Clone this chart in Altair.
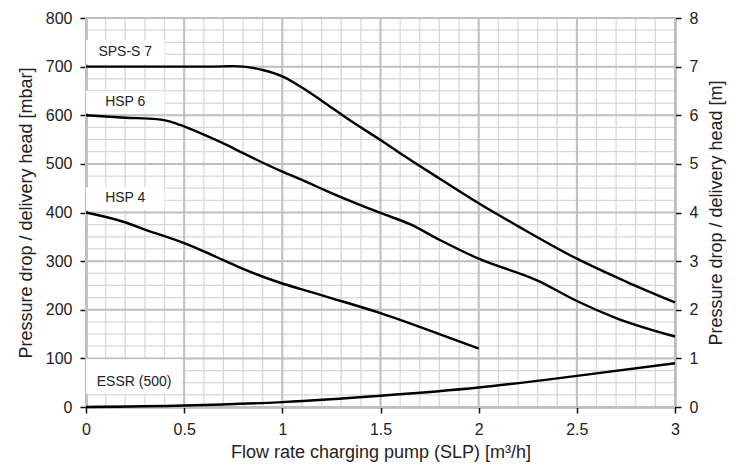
import altair as alt
import pandas as pd

# ---- data ----
sps_x = [0, 0.3, 0.6, 0.7, 0.75, 0.8, 0.9, 1.0, 1.1, 1.2, 1.35, 1.5, 1.6, 1.8, 2.0, 2.2, 2.5, 2.75, 3.0]
sps_y = [700, 700, 700, 700.5, 701, 700, 693, 680, 657, 630, 588, 549, 522, 470, 419, 372, 305, 258, 215]

hsp6_x = [0, 0.2, 0.36, 0.42, 0.48, 0.6, 0.7, 0.8, 1.0, 1.1, 1.25, 1.5, 1.65, 1.8, 2.0, 2.3, 2.5, 2.7, 3.0]
hsp6_y = [600, 595, 592, 588, 580, 560, 542, 522, 484, 467, 440, 399, 376, 344, 305, 260, 218, 183, 145]

hsp4_x = [0, 0.19, 0.3, 0.5, 0.6, 0.7, 0.8, 1.0, 1.09, 1.24, 1.5, 1.65, 1.8, 2.0]
hsp4_y = [400, 381, 365, 337, 320, 302, 284, 254, 243, 225, 193, 172, 150, 120]

essr_x = [0, 0.5, 1.0, 1.5, 2.0, 2.5, 3.0]
essr_y = [0, 3, 10, 23, 40, 64, 90]

label_names = ["SPS-S 7", "HSP 6", "HSP 4", "ESSR (500)"]
label_x0 = [0, 0, 0, 0]
label_x1 = [0.4, 0.4, 0.4, 0.49]
label_y0 = [705, 605, 405, 28]
label_y1 = [755, 650, 452, 98]
label_tx = [0.2, 0.2, 0.2, 0.245]
label_ty = [730, 627, 430, 52]

x_major = [0, 0.5, 1, 1.5, 2, 2.5, 3]
x_minor = [round(i * 0.1, 1) for i in range(31)]
y_major = [0, 100, 200, 300, 400, 500, 600, 700, 800]
y_minor = [i * 25 for i in range(33)]
m_ticks = [0, 1, 2, 3, 4, 5, 6, 7, 8]

# ---- tables ----
rows = []
for name, xs_, ys_ in [("SPS-S 7", sps_x, sps_y), ("HSP 6", hsp6_x, hsp6_y),
                       ("HSP 4", hsp4_x, hsp4_y), ("ESSR (500)", essr_x, essr_y)]:
    for xv, yv in zip(xs_, ys_):
        rows.append({"series": name, "q": xv, "p": yv})
curves = pd.DataFrame(rows)
labels = pd.DataFrame({"name": label_names, "x0": label_x0, "x1": label_x1,
                       "y0": label_y0, "y1": label_y1, "tx": label_tx, "ty": label_ty})

FONT = "Liberation Sans"
xs = alt.Scale(domain=[0, 3], nice=False, zero=False)
ys = alt.Scale(domain=[0, 800], nice=False, zero=False)

lines = alt.Chart(curves).mark_line(color="black", strokeWidth=2.4, interpolate="monotone").encode(
    x=alt.X("q:Q", scale=xs,
            axis=alt.Axis(orient="bottom", values=x_major, format="~g",
                          title="Flow rate charging pump (SLP) [m³/h]",
                          grid=False, tickSize=6, labelPadding=8, titlePadding=6,
                          labelFlush=False)),
    y=alt.Y("p:Q", scale=ys,
            axis=alt.Axis(values=y_major, title="Pressure drop / delivery head [mbar]",
                          grid=False, tickSize=6, labelPadding=8, titlePadding=10,
                          orient="left")),
    detail="series:N")

minor_v = alt.Chart(pd.DataFrame({"g": x_minor})).mark_rule(color="#d6d6d6", strokeWidth=1.2).encode(
    x=alt.X("g:Q", scale=xs, axis=None))
minor_h = alt.Chart(pd.DataFrame({"g": y_minor})).mark_rule(color="#d6d6d6", strokeWidth=1.2).encode(
    y=alt.Y("g:Q", scale=ys, axis=None))
major_v = alt.Chart(pd.DataFrame({"g": x_major})).mark_rule(color="#bfbfbf", strokeWidth=2).encode(
    x=alt.X("g:Q", scale=xs, axis=None))
major_h = alt.Chart(pd.DataFrame({"g": y_major})).mark_rule(color="#bfbfbf", strokeWidth=2).encode(
    y=alt.Y("g:Q", scale=ys, axis=None))

boxes = alt.Chart(labels).mark_rect(color="white").encode(
    x=alt.X("x0:Q", scale=xs, axis=None), x2="x1:Q",
    y=alt.Y("y0:Q", scale=ys, axis=None), y2="y1:Q")

texts = alt.Chart(labels).mark_text(font=FONT, fontSize=14, color="#222222").encode(
    x=alt.X("tx:Q", scale=xs, axis=None),
    y=alt.Y("ty:Q", scale=ys, axis=None),
    text="name:N")

right_axis = alt.Chart(pd.DataFrame({"m": m_ticks})).transform_calculate(
    mb="datum.m * 100").mark_rule(strokeOpacity=0).encode(
    y=alt.Y("mb:Q", scale=ys,
            axis=alt.Axis(orient="right", values=y_major, labelExpr="datum.value / 100",
                          title="Pressure drop / delivery head [m]", grid=False,
                          titleAngle=270, titleBaseline="top",
                          tickSize=6, labelPadding=8, titlePadding=10)))

chart = alt.layer(minor_v, minor_h, major_v, major_h, boxes, lines, texts, right_axis).resolve_axis(
    x="independent", y="independent"
).properties(
    width=589, height=389,
    padding={"left": 78, "top": 10, "right": 57, "bottom": 58},
    autosize=alt.AutoSizeParams(type="none"),
).configure_view(
    stroke="#222222", strokeWidth=1.2
).configure_axis(
    labelFont=FONT, titleFont=FONT, labelFontSize=16, titleFontSize=18,
    labelColor="#222222", titleColor="#222222", titleFontWeight="normal",
    domainColor="#111111", domainWidth=1.5, tickColor="#111111", tickWidth=1.5
)

chart.save("out.html", embed_options={"renderer": "svg", "actions": False})
